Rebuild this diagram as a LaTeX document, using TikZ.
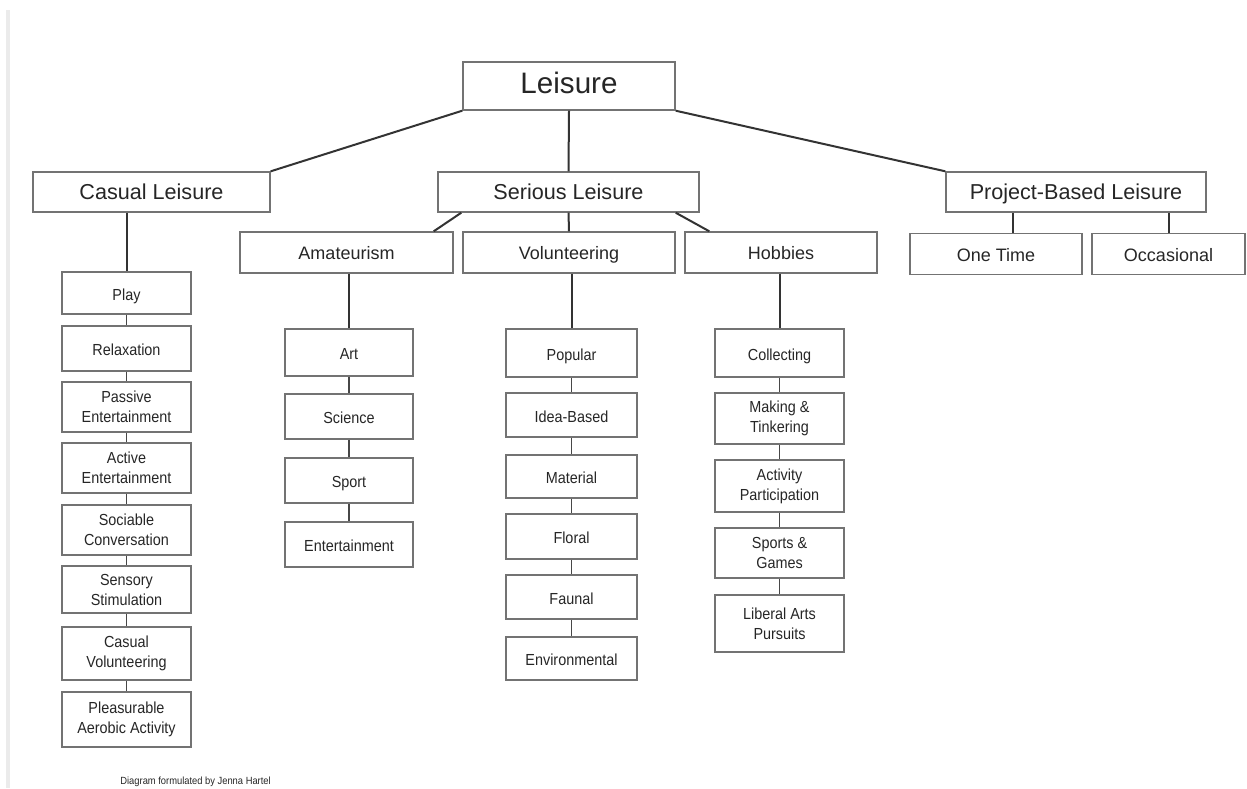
\documentclass[tikz,border=0pt]{standalone}
\usepackage{fontspec}
\setmainfont{Liberation Sans}
\newfontfamily\narrowsans[FakeStretch=0.9]{Liberation Sans}

\begin{document}
\begin{tikzpicture}[
	x=0.5pt, y=-0.5pt,
	box/.style={
		rectangle, draw=black!55, line width=0.7pt, fill=white,
		align=center, inner sep=1pt, text=black!85
	},
	even/.style={text height=0.93em, text depth=0.21em},
	root/.style={
		box, even, font=\fontsize{14.8}{16}\selectfont,
		minimum width=106pt, minimum height=24pt
	},
	branch/.style={
		box, even, font=\fontsize{10.8}{12}\selectfont,
		minimum height=20pt
	},
	twig/.style={
		box, even, font=\fontsize{9}{10}\selectfont,
		minimum height=20.5pt
	},
	leaf/.style={
		box, font=\narrowsans\fontsize{8}{10}\selectfont,
		minimum width=64.5pt
	},
	solo/.style={leaf, even},
	link/.style={black!80, line width=1pt},
	stem/.style={black!72, line width=0.9pt}
]

\useasboundingbox (0,0) rectangle (1247,788);
\draw[black!8, line width=2pt] (8,10) -- (8,788);

% Top and first level
\node[root] (leis) at (569, 86) {Leisure};
\node[branch, minimum width=118.5pt] (cas)  at ( 151.5, 192) {Casual Leisure};
\node[branch, minimum width=130.5pt] (ser)  at ( 568.5, 192) {Serious Leisure};
\node[branch, minimum width=130pt]   (proj) at (1076.0, 192) {Project-Based Leisure};

\draw[link] (leis.south west) -- (cas.north east);
\draw[link] (leis.south) -- (ser.north);
\draw[link] (leis.south east) -- (proj.north west);

% Second level y=252
\node[twig, minimum width=106.5pt] (amat) at ( 346.5, 252.5) {Amateurism};
\node[twig, minimum width=106pt]   (vol)  at ( 569.0, 252.5) {Volunteering};
\node[twig, minimum width=96pt]    (hob)  at ( 781.0, 252.5) {Hobbies};
\node[twig, minimum width=86pt]    (once) at ( 996.0, 254.0) {One Time};
\node[twig, minimum width=76.5pt]  (occ)  at (1168.5, 254.0) {Occasional};

\draw[link] ([xshift=12pt]ser.south west) -- ([xshift=-10pt]amat.north east);
\draw[link] (ser.south) -- (vol.north);
\draw[link] ([xshift=-12pt]ser.south east) -- ([xshift=12.5pt]hob.north west);

\coordinate (oncetop) at ([xshift=8.5pt]once.north);
\draw[link] (oncetop |- proj.south) -- (oncetop);
\draw[link] (occ.north |- proj.south) -- (occ.north);

% Casual column x=126.5
\node[solo, minimum height=21pt]   (play)  at (126.5, 293.0) {Play};
\node[solo, minimum height=22.5pt] (relax) at (126.5, 348.5) {Relaxation};
\node[leaf, minimum height=25pt]   (pass)  at (126.5, 407.0) {Passive\\Entertainment};
\node[leaf, minimum height=25pt]   (act)   at (126.5, 468.0) {Active\\Entertainment};
\node[leaf, minimum height=25pt]   (soc)   at (126.5, 530.0) {Sociable\\Conversation};
\node[leaf, minimum height=23.5pt] (sens)  at (126.5, 589.5) {Sensory\\Stimulation};
\node[leaf, minimum height=26.5pt] (cvol)  at (126.5, 653.5) {Casual\\Volunteering};
\node[leaf, minimum height=27.5pt] (aero)  at (126.5, 719.5) {Pleasurable\\Aerobic Activity};

\draw[link] (play.north |- cas.south) -- (play.north);
\draw[stem] (play) -- (relax);
\draw[stem] (relax) -- (pass);
\draw[stem] (pass) -- (act);
\draw[stem] (act) -- (soc);
\draw[stem] (soc) -- (sens);
\draw[stem] (sens) -- (cvol);
\draw[stem] (cvol) -- (aero);

% Amateurism column x=349
\node[solo, minimum width=64pt, minimum height=23.5pt] (art)  at (349, 352.5) {Art};
\node[solo, minimum width=64pt, minimum height=22.5pt] (sci)  at (349, 416.5) {Science};
\node[solo, minimum width=64pt, minimum height=22.5pt] (sprt) at (349, 480.5) {Sport};
\node[solo, minimum width=64pt, minimum height=22.5pt] (ent)  at (349, 544.5) {Entertainment};

\draw[link] (art.north |- amat.south) -- (art.north);
\draw[stem] (art) -- (sci);
\draw[stem] (sci) -- (sprt);
\draw[stem] (sprt) -- (ent);

% Volunteering column x=571.5
\node[solo, minimum width=65.5pt, minimum height=24pt]   (pop)  at (571.5, 353.0) {Popular};
\node[solo, minimum width=65.5pt, minimum height=22pt]   (idea) at (571.5, 415.0) {Idea-Based};
\node[solo, minimum width=65.5pt, minimum height=21.5pt] (mat)  at (571.5, 476.5) {Material};
\node[solo, minimum width=65.5pt, minimum height=22.5pt] (flor) at (571.5, 536.5) {Floral};
\node[solo, minimum width=65.5pt, minimum height=22pt]   (faun) at (571.5, 597.0) {Faunal};
\node[solo, minimum width=65.5pt, minimum height=21.5pt] (env)  at (571.5, 658.5) {Environmental};

\draw[link] (pop.north |- vol.south) -- (pop.north);
\draw[stem] (pop) -- (idea);
\draw[stem] (idea) -- (mat);
\draw[stem] (mat) -- (flor);
\draw[stem] (flor) -- (faun);
\draw[stem] (faun) -- (env);

% Hobbies column x=779.5
\node[solo, minimum height=24pt]   (coll) at (779.5, 353.0) {Collecting};
\node[leaf, minimum height=25.5pt] (make) at (779.5, 418.5) {Making \&\\Tinkering};
\node[leaf, minimum height=26pt]   (part) at (779.5, 486.0) {Activity\\Participation};
\node[leaf, minimum height=25pt]   (game) at (779.5, 553.0) {Sports \&\\Games};
\node[leaf, minimum height=28.5pt] (arts) at (779.5, 623.5) {Liberal Arts\\Pursuits};

\draw[link] (coll.north |- hob.south) -- (coll.north);
\draw[stem] (coll) -- (make);
\draw[stem] (make) -- (part);
\draw[stem] (part) -- (game);
\draw[stem] (game) -- (arts);

% Credit line
\node[anchor=base west, inner sep=0pt, text=black!85,
	font=\narrowsans\fontsize{5.2}{6}\selectfont] (credit) at (120, 784)
	{Diagram formulated by Jenna Hartel};

\end{tikzpicture}
\end{document}
